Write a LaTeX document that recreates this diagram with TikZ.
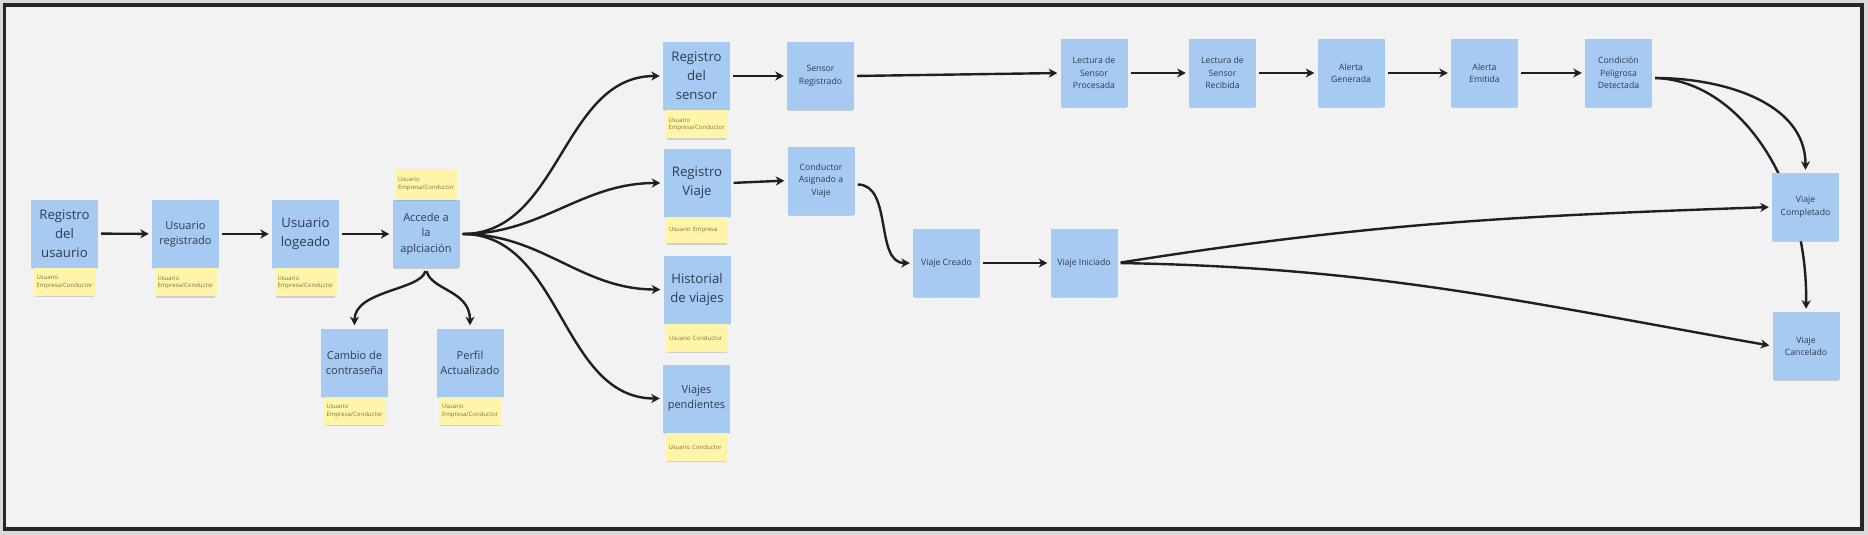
\documentclass[tikz,border=0pt]{standalone}
\usepackage{fontspec}
\setmainfont{Open Sans}
\usetikzlibrary{positioning,shadows,arrows.meta}
\definecolor{notaazul}{HTML}{A7CAF2}
\definecolor{notaamarilla}{HTML}{FFF5A8}
\definecolor{lienzo}{HTML}{F2F2F2}
\definecolor{tinta}{HTML}{2E3D4F}
\definecolor{tintarol}{HTML}{7D7446}
\pgfdeclarelayer{fondo}
\pgfdeclarelayer{flechas}
\pgfsetlayers{fondo,flechas,main}

\begin{document}
\begin{tikzpicture}[x=1pt,y=1pt,line join=round,line cap=round,>={Stealth[length=8.5pt,width=9pt,inset=2.5pt]}]
	\tikzset{
		nota/.style={rectangle,fill=notaazul,text=tinta,minimum width=67pt,minimum height=68pt,inner sep=2pt,align=center,
			drop shadow={shadow xshift=0pt,shadow yshift=-2.5pt,shadow scale=0.96,opacity=.35}},
		grande/.style={nota,font=\fontsize{13.2}{18.8}\selectfont},
		media/.style={nota,font=\fontsize{11}{15.2}\selectfont},
		chica/.style={nota,font=\fontsize{8.7}{12.3}\selectfont},
		rol/.style={rectangle,fill=notaamarilla,text=tintarol,minimum width=62pt,minimum height=28pt,text width=56pt,inner sep=3pt,align=left,
			font=\fontsize{6}{7.7}\selectfont,drop shadow={shadow xshift=0pt,shadow yshift=-2pt,shadow scale=0.96,opacity=.3}},
		flecha/.style={->,line width=2.4pt,draw=black!88,shorten <=3pt,shorten >=3pt}
	}
	\useasboundingbox (0,0) rectangle (1868,-535);
	\begin{pgfonlayer}{fondo}
		\fill[black!15] (0,0) rectangle (1868,-535);
		\draw[line width=3.3pt,draw=black!85,fill=lienzo] (4.2,-5) rectangle (1862,-529);
	\end{pgfonlayer}

	\node[grande] (regUsr) at (64.5,-233.5) {Registro\\del\\usaurio};
	\node[media] (usrReg) at (185.5,-234) {Usuario\\registrado};
	\node[grande] (usrLog) at (305.5,-234) {Usuario\\logeado};
	\node[media] (accede) at (426,-234) {Accede a\\la\\aplciación};
	\node[media] (cambio) at (354.5,-362.5) {Cambio de\\contraseña};
	\node[media] (perfil) at (470,-362.5) {Perfil\\Actualizado};

	\node[grande] (regSens) at (696.5,-76) {Registro\\del\\sensor};
	\node[chica] (sensReg) at (820.5,-76) {Sensor\\Registrado};
	\node[grande] (regViaje) at (697,-183) {Registro\\Viaje};
	\node[chica] (condAsig) at (821,-180.5) {Conductor\\Asignado a\\Viaje};
	\node[grande] (historial) at (697,-289.5) {Historial\\de viajes};
	\node[media] (pendientes) at (696.5,-398.5) {Viajes\\pendientes};

	\node[chica] (viajeCreado) at (946.5,-263) {Viaje Creado};
	\node[chica] (viajeIni) at (1084,-263) {Viaje Iniciado};

	\node[chica] (lectProc) at (1094,-73) {Lectura de\\Sensor\\Procesada};
	\node[chica] (lectRec) at (1222.5,-73) {Lectura de\\Sensor\\Recibida};
	\node[chica] (alertaGen) at (1351,-73) {Alerta\\Generada};
	\node[chica] (alertaEm) at (1484.5,-73) {Alerta\\Emitida};
	\node[chica] (condPel) at (1618.5,-73) {Condición\\Peligrosa\\Detectada};
	\node[chica] (viajeComp) at (1805.5,-207) {Viaje\\Completado};
	\node[chica] (viajeCanc) at (1806,-346) {Viaje\\Cancelado};

	\node[rol,below=0pt of regUsr] (regUsrRol) {Usuario\\Empresa/Conductor};
	\node[rol,below=0pt of usrReg] (usrRegRol) {Usuario\\Empresa/Conductor};
	\node[rol,below=0pt of usrLog] (usrLogRol) {Usuario\\Empresa/Conductor};
	\node[rol,above=0pt of accede,minimum height=31pt] (accedeRol) {Usuario\\Empresa/Conductor};
	\node[rol,below=0pt of cambio] (cambioRol) {Usuario\\Empresa/Conductor};
	\node[rol,below=0pt of perfil] (perfilRol) {Usuario\\Empresa/Conductor};
	\node[rol,below=0pt of regSens] (regSensRol) {Usuario\\Empresa/Conductor};
	\node[rol,below=0pt of regViaje,minimum height=26pt] (regViajeRol) {Usuario Empresa};
	\node[rol,below=0pt of historial] (historialRol) {Usuario Conductor};
	\node[rol,below=0pt of pendientes] (pendientesRol) {Usuario Conductor};

	\begin{pgfonlayer}{flechas}
		\draw[flecha] (regUsr) -- (usrReg);
		\draw[flecha] (usrReg) -- (usrLog);
		\draw[flecha] (usrLog) -- (accede);
		\draw[flecha] (accede.south) .. controls +(-5,-22) and +(0,38) .. (cambio.north);
		\draw[flecha] (accede.south) .. controls +(5,-22) and +(0,38) .. (perfil.north);
		\draw[flecha] (accede.east) to[out=0,in=180] (regSens.west);
		\draw[flecha] (accede.east) to[out=0,in=180] (regViaje.west);
		\draw[flecha] (accede.east) to[out=0,in=180] (historial.west);
		\draw[flecha] (accede.east) to[out=0,in=180] (pendientes.west);
		\draw[flecha] (regSens) -- (sensReg);
		\draw[flecha] (regViaje.east) -- (condAsig.west);
		\draw[flecha] (sensReg.east) -- (lectProc.west);
		\draw[flecha] (lectProc) -- (lectRec);
		\draw[flecha] (lectRec) -- (alertaGen);
		\draw[flecha] (alertaGen) -- (alertaEm);
		\draw[flecha] (alertaEm) -- (condPel);
		\draw[flecha] ([yshift=-4pt]condAsig.east) to[out=0,in=180] (viajeCreado.west);
		\draw[flecha] (viajeCreado) -- (viajeIni);
		\draw[flecha] (viajeIni.east) to[out=9,in=182] (viajeComp.west);
		\draw[flecha] (viajeIni.east) to[out=-1,in=170] (viajeCanc.west);
		\draw[flecha] ([yshift=-5pt]condPel.east) to[out=0,in=90] (viajeComp.north);
		\draw[flecha] ([yshift=-5pt]condPel.east) .. controls +(85,-2) and +(2,132) .. (viajeCanc.north);
	\end{pgfonlayer}
\end{tikzpicture}
\end{document}
